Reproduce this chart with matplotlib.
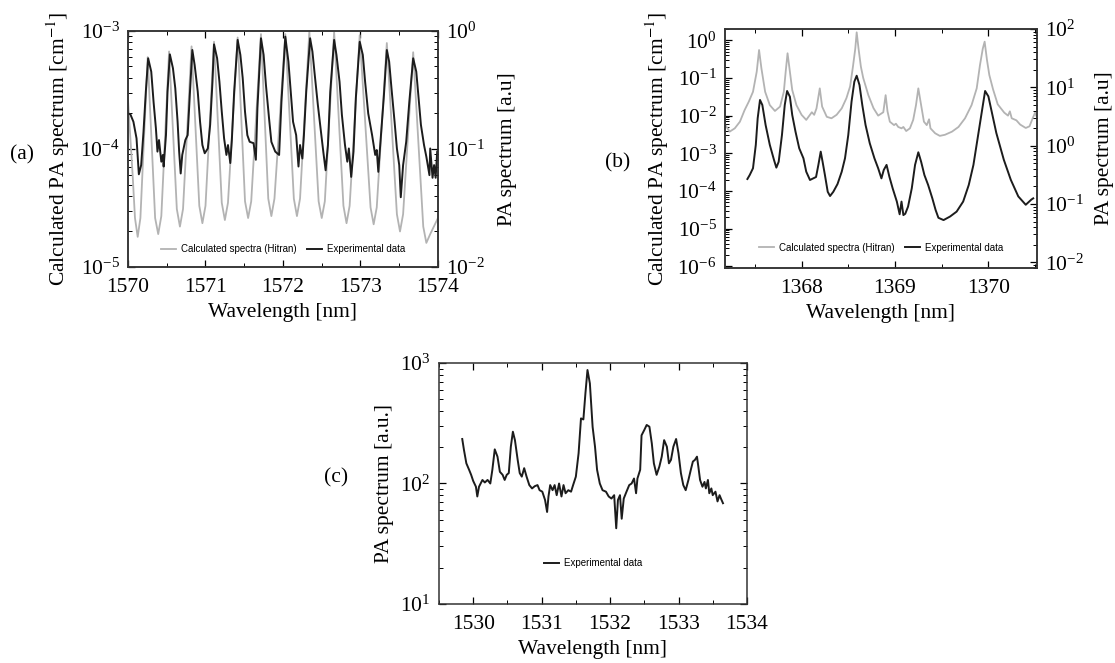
import numpy as np
import matplotlib
matplotlib.use("Agg")
import matplotlib.pyplot as plt
from matplotlib.ticker import MultipleLocator, LogLocator, NullFormatter

plt.rcParams['font.family'] = ['Liberation Serif', 'DejaVu Serif']
plt.rcParams['mathtext.fontset'] = 'stix'

# ---- panel (a): 1570-1574 nm ----
wl_a_calc = [1570.00, 1570.06, 1570.09, 1570.125, 1570.16, 1570.254, 1570.35, 1570.39, 1570.43,
             1570.53, 1570.63, 1570.67, 1570.71, 1570.82, 1570.92, 1570.96, 1571.00, 1571.11,
             1571.21, 1571.25, 1571.29, 1571.415, 1571.51, 1571.55, 1571.59, 1571.716, 1571.81,
             1571.85, 1571.89, 1572.03, 1572.14, 1572.18, 1572.22, 1572.34, 1572.46, 1572.50,
             1572.54, 1572.66, 1572.78, 1572.82, 1572.86, 1572.99, 1573.13, 1573.17, 1573.21,
             1573.34, 1573.47, 1573.51, 1573.55, 1573.68, 1573.81, 1573.85, 1573.90, 1574.00]
pa_a_calc = [2.6e-4, 6.0e-5, 2.6e-5, 1.8e-5, 2.6e-5, 6.0e-4, 2.6e-5, 1.9e-5, 2.7e-5,
             6.7e-4, 3.1e-5, 2.2e-5, 3.1e-5, 7.4e-4, 3.3e-5, 2.35e-5, 3.3e-5, 8.1e-4,
             3.5e-5, 2.5e-5, 3.5e-5, 8.8e-4, 3.6e-5, 2.6e-5, 3.6e-5, 9.4e-4, 3.8e-5,
             2.7e-5, 3.8e-5, 9.4e-4, 3.8e-5, 2.7e-5, 3.8e-5, 9.9e-4, 3.6e-5, 2.6e-5,
             3.6e-5, 9.8e-4, 3.3e-5, 2.35e-5, 3.3e-5, 9.2e-4, 3.2e-5, 2.3e-5, 3.2e-5,
             7.9e-4, 2.8e-5, 2.0e-5, 2.8e-5, 6.6e-4, 2.2e-5, 1.6e-5, 1.9e-5, 2.6e-5]

wl_a_exp = [1570.00, 1570.03, 1570.07, 1570.11, 1570.14, 1570.17, 1570.20, 1570.23, 1570.26, 1570.30,
            1570.33, 1570.36, 1570.38, 1570.40, 1570.43, 1570.45, 1570.46, 1570.49, 1570.51, 1570.54,
            1570.58, 1570.61, 1570.64, 1570.66, 1570.68, 1570.70, 1570.74, 1570.77, 1570.80, 1570.83,
            1570.86, 1570.90, 1570.93, 1570.96, 1570.99, 1571.03, 1571.06, 1571.09, 1571.11, 1571.15,
            1571.18, 1571.21, 1571.24, 1571.27, 1571.29, 1571.32, 1571.34, 1571.37, 1571.415, 1571.45,
            1571.48, 1571.51, 1571.54, 1571.57, 1571.62, 1571.65, 1571.67, 1571.716, 1571.75, 1571.78,
            1571.82, 1571.85, 1571.90, 1571.95, 1571.98, 1572.03, 1572.07, 1572.10, 1572.13, 1572.17,
            1572.20, 1572.22, 1572.25, 1572.27, 1572.30, 1572.35, 1572.38, 1572.41, 1572.45, 1572.49,
            1572.52, 1572.55, 1572.58, 1572.61, 1572.66, 1572.69, 1572.73, 1572.76, 1572.80, 1572.83,
            1572.85, 1572.88, 1572.91, 1572.94, 1572.99, 1573.03, 1573.06, 1573.10, 1573.15, 1573.19,
            1573.21, 1573.23, 1573.25, 1573.30, 1573.34, 1573.37, 1573.40, 1573.44, 1573.47, 1573.50,
            1573.52, 1573.55, 1573.59, 1573.63, 1573.68, 1573.72, 1573.75, 1573.78, 1573.82, 1573.85,
            1573.89, 1573.90, 1573.93, 1573.95, 1573.97, 1573.99]
pa_a_exp = [0.20, 0.197, 0.17, 0.123, 0.061, 0.073, 0.14, 0.306, 0.587, 0.452,
            0.25, 0.15, 0.095, 0.119, 0.078, 0.089, 0.071, 0.131, 0.306, 0.634,
            0.483, 0.327, 0.17, 0.095, 0.062, 0.089, 0.119, 0.131, 0.306, 0.69,
            0.515, 0.306, 0.17, 0.108, 0.092, 0.101, 0.16, 0.37, 0.77, 0.587,
            0.37, 0.207, 0.123, 0.089, 0.108, 0.076, 0.119, 0.306, 0.84, 0.627,
            0.40, 0.207, 0.131, 0.115, 0.112, 0.081, 0.221, 0.867, 0.627, 0.348,
            0.182, 0.115, 0.095, 0.089, 0.25, 0.895, 0.55, 0.306, 0.17, 0.131,
            0.071, 0.108, 0.083, 0.131, 0.306, 0.867, 0.668, 0.424, 0.236, 0.14,
            0.095, 0.066, 0.108, 0.306, 0.84, 0.627, 0.37, 0.195, 0.108, 0.078,
            0.101, 0.058, 0.095, 0.27, 0.81, 0.627, 0.37, 0.20, 0.131, 0.089,
            0.098, 0.064, 0.098, 0.27, 0.69, 0.55, 0.327, 0.17, 0.101, 0.073,
            0.039, 0.073, 0.115, 0.25, 0.587, 0.452, 0.27, 0.16, 0.108, 0.086,
            0.06, 0.101, 0.057, 0.073, 0.057, 0.095]

# ---- panel (b): 1367-1370.5 nm ----
wl_b_calc = [1367.185, 1367.23, 1367.285, 1367.34, 1367.39, 1367.435, 1367.48, 1367.52, 1367.545, 1367.57,
             1367.61, 1367.66, 1367.715, 1367.77, 1367.81, 1367.83, 1367.85, 1367.875, 1367.90, 1367.945,
             1368.00, 1368.05, 1368.11, 1368.135, 1368.16, 1368.195, 1368.22, 1368.27, 1368.32, 1368.375,
             1368.43, 1368.48, 1368.52, 1368.55, 1368.575, 1368.59, 1368.61, 1368.635, 1368.66, 1368.715,
             1368.77, 1368.82, 1368.875, 1368.90, 1368.92, 1368.945, 1368.99, 1369.01, 1369.035, 1369.07,
             1369.09, 1369.12, 1369.16, 1369.195, 1369.225, 1369.25, 1369.28, 1369.31, 1369.34, 1369.365,
             1369.38, 1369.43, 1369.48, 1369.535, 1369.61, 1369.68, 1369.75, 1369.82, 1369.875, 1369.91,
             1369.94, 1369.96, 1369.985, 1370.01, 1370.05, 1370.10, 1370.17, 1370.21, 1370.23, 1370.25,
             1370.30, 1370.34, 1370.40, 1370.44, 1370.47, 1370.50, 1370.52]
pa_b_calc = [5.6e-3, 3.75e-3, 4.6e-3, 6.9e-3, 1.4e-2, 2.35e-2, 4.3e-2, 0.147, 0.553, 0.181,
             4.3e-2, 1.9e-2, 1.33e-2, 1.74e-2, 4.3e-2, 0.147, 0.453, 0.147, 4.8e-2, 1.9e-2,
             1.05e-2, 7.7e-3, 1.23e-2, 1.05e-2, 1.56e-2, 5.3e-2, 1.74e-2, 9.3e-3, 8.5e-3, 1.05e-2,
             1.56e-2, 2.9e-2, 6.0e-2, 0.2, 0.6, 1.63, 0.6, 0.2, 0.1, 3.5e-2,
             1.58e-2, 1.0e-2, 1.23e-2, 3.5e-2, 1.3e-2, 6.9e-3, 5.6e-3, 6.1e-3, 5.0e-3, 4.6e-3,
             5.0e-3, 3.9e-3, 4.6e-3, 7.7e-3, 1.9e-2, 5.3e-2, 1.9e-2, 6.9e-3, 5.6e-3, 8.0e-3,
             4.6e-3, 3.4e-3, 2.9e-3, 3.1e-3, 3.75e-3, 5.0e-3, 8.5e-3, 1.9e-2, 5.3e-2, 0.22,
             0.6, 0.92, 0.3, 0.12, 5.0e-2, 2.0e-2, 1.2e-2, 1.0e-2, 1.3e-2, 8.5e-3,
             7.5e-3, 5.8e-3, 4.7e-3, 5.2e-3, 8.0e-3, 1.2e-2, 9.0e-3]

wl_b_exp = [1367.42, 1367.445, 1367.48, 1367.51, 1367.53, 1367.555, 1367.58, 1367.615, 1367.66, 1367.705,
            1367.73, 1367.755, 1367.79, 1367.82, 1367.845, 1367.875, 1367.90, 1367.935, 1367.975, 1368.02,
            1368.05, 1368.09, 1368.125, 1368.155, 1368.18, 1368.205, 1368.225, 1368.25, 1368.28, 1368.305,
            1368.34, 1368.385, 1368.43, 1368.465, 1368.50, 1368.535, 1368.565, 1368.59, 1368.62, 1368.65,
            1368.685, 1368.73, 1368.78, 1368.82, 1368.855, 1368.88, 1368.91, 1368.94, 1368.975, 1369.02,
            1369.05, 1369.07, 1369.09, 1369.11, 1369.14, 1369.18, 1369.215, 1369.25, 1369.28, 1369.315,
            1369.355, 1369.40, 1369.435, 1369.465, 1369.52, 1369.59, 1369.66, 1369.73, 1369.79, 1369.84,
            1369.885, 1369.93, 1369.965, 1370.00, 1370.085, 1370.165, 1370.24, 1370.32, 1370.40, 1370.46,
            1370.48]
pa_b_exp = [0.268, 0.314, 0.41, 1.03, 2.94, 6.07, 4.98, 2.26, 1.03, 0.568,
            0.42, 0.53, 1.52, 4.98, 8.65, 6.9, 3.36, 1.74, 0.90, 0.607,
            0.358, 0.258, 0.275, 0.29, 0.468, 0.79, 0.53, 0.314, 0.162, 0.137,
            0.162, 0.22, 0.358, 0.607, 1.52, 5.68, 12.5, 15.8, 10.96, 4.98,
            2.26, 1.1, 0.607, 0.41, 0.275, 0.383, 0.468, 0.294, 0.186, 0.11,
            0.0666, 0.11, 0.0645, 0.068, 0.09, 0.186, 0.468, 0.77, 0.53, 0.314,
            0.212, 0.125, 0.079, 0.058, 0.053, 0.061, 0.074, 0.11, 0.212, 0.468,
            1.34, 3.83, 8.65, 7.0, 1.65, 0.575, 0.26, 0.135, 0.097, 0.119,
            0.125]

# ---- panel (c): 1530-1534 nm ----
wl_c_exp = [1529.84, 1529.865, 1529.90, 1529.94, 1529.97, 1530.00, 1530.04, 1530.06, 1530.085, 1530.135,
            1530.17, 1530.21, 1530.25, 1530.28, 1530.315, 1530.355, 1530.39, 1530.43, 1530.46, 1530.49,
            1530.52, 1530.55, 1530.58, 1530.61, 1530.65, 1530.68, 1530.71, 1530.745, 1530.78, 1530.82,
            1530.86, 1530.90, 1530.94, 1530.97, 1531.01, 1531.05, 1531.08, 1531.10, 1531.125, 1531.16,
            1531.19, 1531.22, 1531.255, 1531.29, 1531.32, 1531.35, 1531.39, 1531.43, 1531.46, 1531.50,
            1531.54, 1531.575, 1531.61, 1531.64, 1531.67, 1531.705, 1531.745, 1531.78, 1531.81, 1531.85,
            1531.89, 1531.94, 1531.98, 1532.02, 1532.06, 1532.09, 1532.115, 1532.145, 1532.17, 1532.20,
            1532.24, 1532.28, 1532.315, 1532.35, 1532.38, 1532.40, 1532.44, 1532.46, 1532.50, 1532.535,
            1532.575, 1532.61, 1532.64, 1532.68, 1532.72, 1532.755, 1532.79, 1532.83, 1532.86, 1532.89,
            1532.925, 1532.965, 1533.00, 1533.035, 1533.07, 1533.105, 1533.145, 1533.18, 1533.21, 1533.24,
            1533.27, 1533.29, 1533.315, 1533.35, 1533.38, 1533.40, 1533.43, 1533.45, 1533.48, 1533.50,
            1533.54, 1533.57, 1533.60, 1533.62, 1533.65]
pa_c_exp = [234, 190, 147, 130, 118, 105, 94, 78, 94, 107,
            102, 107, 100, 130, 192, 167, 125, 118, 107, 118,
            122, 202, 269, 229, 157, 122, 114, 134, 114, 97,
            91, 95, 97, 88, 85.5, 73, 58, 78, 97, 88,
            97, 80, 100, 78, 97, 83, 88, 85.5, 97, 114,
            178, 347, 340, 561, 875, 677, 295, 202, 130, 100,
            88, 85.5, 78, 75, 80, 42.5, 73, 80, 51, 75,
            85.5, 97, 100, 110, 83, 110, 130, 251, 278, 306,
            296, 215, 147, 118, 138, 167, 229, 202, 147, 157,
            202, 234, 178, 122, 97, 88, 107, 130, 152, 157,
            167, 138, 107, 94, 103, 91, 107, 83, 91, 80,
            85.5, 71, 80, 75, 68.6]

calc_color = '#b3b3b3'
exp_color = '#1c1c1c'
tick_fs = 15.5
label_fs = 15.5
leg_font = {'family': 'Liberation Sans', 'size': 7}


def style_axis(ax, right=False):
    ax.tick_params(which='both', direction='in', labelsize=tick_fs, top=True,
                   right=right, left=not right, pad=6)
    ax.tick_params(axis='x', pad=8)
    ax.tick_params(which='major', length=5, width=0.9)
    ax.tick_params(which='minor', length=3, width=0.7)
    for sp in ax.spines.values():
        sp.set_linewidth(1.1)
        sp.set_color('#333333')


def log_y(ax):
    ax.set_yscale('log')
    ax.yaxis.set_major_locator(LogLocator(base=10, numticks=20))
    ax.yaxis.set_minor_locator(LogLocator(base=10, subs=np.arange(2, 10), numticks=20))
    ax.yaxis.set_minor_formatter(NullFormatter())


fig = plt.figure(figsize=(11.15, 6.63), dpi=100)

# (a)
ax_a = fig.add_axes([0.1148, 0.5973, 0.2780, 0.3560])
l1, = ax_a.plot(wl_a_calc, pa_a_calc, color=calc_color, lw=1.3, label='Calculated spectra (Hitran)')
log_y(ax_a)
ax_a.set_ylim(1e-5, 1e-3)
ax_a.set_xlim(1570, 1574)
ax_a.xaxis.set_major_locator(MultipleLocator(1))
ax_a.xaxis.set_minor_locator(MultipleLocator(0.5))
ax_a.set_xlabel('Wavelength [nm]', fontsize=label_fs)
ax_a.set_ylabel('Calculated PA spectrum [cm$^{-1}$]', fontsize=label_fs, labelpad=6)
style_axis(ax_a)
ax_a2 = ax_a.twinx()
l2, = ax_a2.plot(wl_a_exp, pa_a_exp, color=exp_color, lw=1.4, label='Experimental data')
log_y(ax_a2)
ax_a2.set_ylim(1e-2, 1)
ax_a2.set_ylabel('PA spectrum [a.u]', fontsize=label_fs, labelpad=9)
style_axis(ax_a2, right=True)
ax_a2.legend(handles=[l1, l2], loc='center', bbox_to_anchor=(0.5, 0.075), ncol=2,
             frameon=False, prop=leg_font, handlelength=1.6, handletextpad=0.5, columnspacing=1.0)

# (b)
ax_b = fig.add_axes([0.6502, 0.5958, 0.2798, 0.3605])
m1, = ax_b.plot(wl_b_calc, pa_b_calc, color=calc_color, lw=1.3, label='Calculated spectra (Hitran)')
log_y(ax_b)
ax_b.set_ylim(9e-7, 2)
ax_b.set_xlim(1367.18, 1370.52)
ax_b.xaxis.set_major_locator(MultipleLocator(1))
ax_b.xaxis.set_minor_locator(MultipleLocator(0.5))
ax_b.set_xlabel('Wavelength [nm]', fontsize=label_fs)
ax_b.set_ylabel('Calculated PA spectrum [cm$^{-1}$]', fontsize=label_fs, labelpad=4.5)
style_axis(ax_b)
ax_b2 = ax_b.twinx()
m2, = ax_b2.plot(wl_b_exp, pa_b_exp, color=exp_color, lw=1.4, label='Experimental data')
log_y(ax_b2)
ax_b2.set_ylim(8e-3, 1e2)
ax_b2.set_ylabel('PA spectrum [a.u]', fontsize=label_fs, labelpad=8)
style_axis(ax_b2, right=True)
ax_b2.legend(handles=[m1, m2], loc='center', bbox_to_anchor=(0.5, 0.085), ncol=2,
             frameon=False, prop=leg_font, handlelength=1.6, handletextpad=0.5, columnspacing=1.0)

# (c)
ax_c = fig.add_axes([0.3937, 0.0890, 0.2762, 0.3635])
ax_c.plot(wl_c_exp, pa_c_exp, color=exp_color, lw=1.4, label='Experimental data')
log_y(ax_c)
ax_c.set_ylim(10, 1e3)
ax_c.set_xlim(1529.5, 1534)
ax_c.xaxis.set_major_locator(MultipleLocator(1))
ax_c.xaxis.set_minor_locator(MultipleLocator(0.5))
ax_c.set_xlabel('Wavelength [nm]', fontsize=label_fs)
ax_c.set_ylabel('PA spectrum [a.u.]', fontsize=label_fs)
style_axis(ax_c, right=False)
ax_c.tick_params(which='both', right=True)
ax_c.legend(loc='center', bbox_to_anchor=(0.5, 0.17), frameon=False, prop=leg_font,
            handlelength=1.6, handletextpad=0.5)

fig.text(0.009, 0.766, '(a)', fontsize=15.5, va='center')
fig.text(0.543, 0.754, '(b)', fontsize=15.5, va='center')
fig.text(0.312, 0.279, '(c)', fontsize=15.5, va='center', ha='right')

fig.savefig('out.png', dpi=100)
